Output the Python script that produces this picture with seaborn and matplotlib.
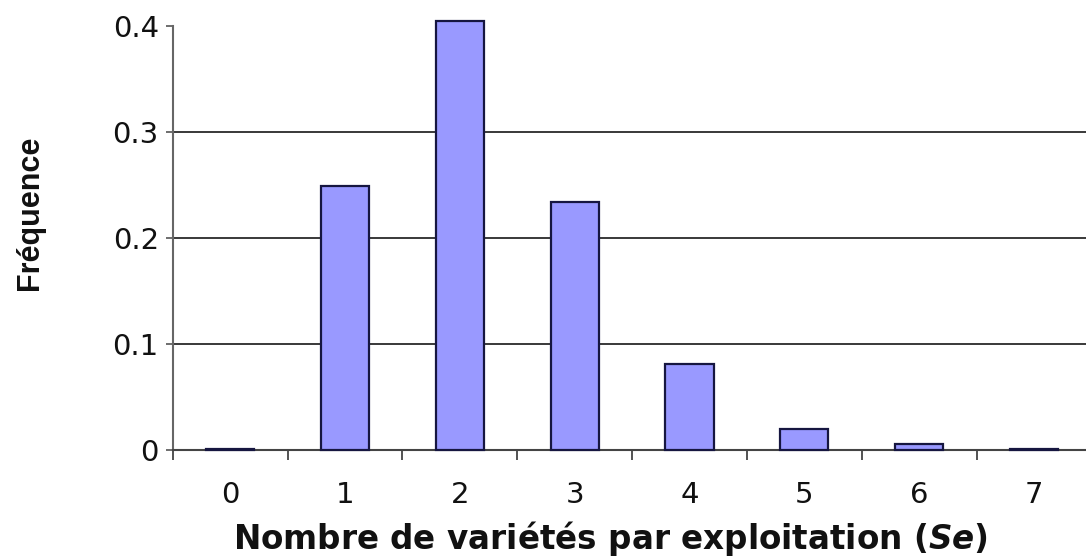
import matplotlib
matplotlib.use("Agg")
import matplotlib.pyplot as plt
import numpy as np
import pandas as pd
import seaborn as sns

varieties = ["0", "1", "2", "3", "4", "5", "6", "7"]
frequencies = [0.001, 0.249, 0.405, 0.234, 0.081, 0.020, 0.006, 0.001]
y_ticks = [0, 0.1, 0.2, 0.3, 0.4]
y_tick_labels = ["0", "0.1", "0.2", "0.3", "0.4"]

sns.set_style("white")
plt.rcParams["font.family"] = ["DejaVu Sans"]
plt.rcParams["mathtext.fontset"] = "dejavusans"

df = pd.DataFrame({"Se": varieties, "freq": frequencies})

fig = plt.figure(figsize=(10.86, 5.58), dpi=100)
ax = fig.add_axes([0.159, 0.1935, 0.846, 0.7595])

sns.barplot(
    data=df,
    x="Se",
    y="freq",
    order=varieties,
    color="#9999ff",
    saturation=1,
    width=0.42,
    edgecolor="#161640",
    linewidth=1.6,
    ax=ax,
)
for patch in ax.patches:
    patch.set_clip_on(False)
    patch.set_zorder(3)

ax.set_xlim(-0.5, len(varieties) - 0.5)
ax.set_ylim(0, 0.4)

# grid lines only inside the plot area
for yv in y_ticks[1:-1]:
    ax.axhline(yv, color="#2a2a2a", linewidth=1.3, zorder=1)

ax.set_yticks(y_ticks)
ax.set_yticklabels(y_tick_labels)
ax.set_xticks(range(len(varieties)))
ax.set_xticklabels(varieties)
ax.set_xticks(np.arange(-0.5, len(varieties)), minor=True)

ax.tick_params(axis="x", which="major", length=0, pad=22, labelsize=21, colors="#111111")
ax.tick_params(axis="x", which="minor", length=7, width=1.3, direction="out",
               color="#444444", bottom=True)
ax.tick_params(axis="y", length=5, width=1.2, direction="out", color="#555555",
               pad=5, labelsize=21, labelcolor="#111111", left=True)

for side in ["top", "right"]:
    ax.spines[side].set_visible(False)
ax.spines["left"].set_color("#666666")
ax.spines["left"].set_linewidth(1.5)
ax.spines["bottom"].set_color("#444444")
ax.spines["bottom"].set_linewidth(1.5)

ax.set_xlabel("Nombre de variétés par exploitation ($\\mathbfit{Se}$)",
              fontsize=23.5, fontweight="bold", color="#111111")
ax.xaxis.set_label_coords(0.476, -0.163)
ax.set_ylabel("Fréquence", fontsize=22, fontweight="bold", color="#111111",
              family=["Liberation Sans Narrow", "Liberation Sans", "DejaVu Sans"])
ax.yaxis.set_label_coords(-0.139, 0.56)

fig.savefig("out.png", dpi=100)
